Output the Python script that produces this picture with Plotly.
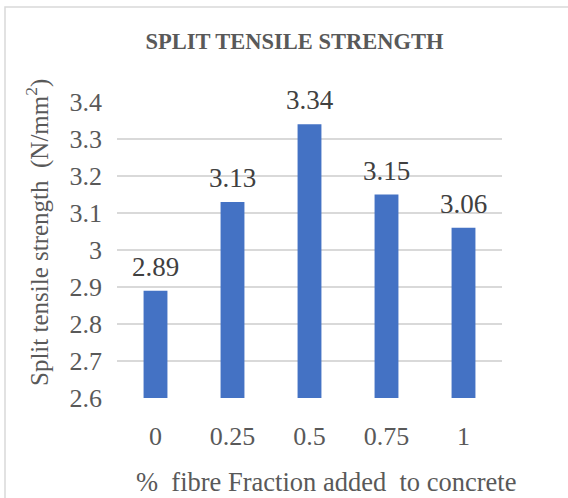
import plotly.graph_objects as go

categories = ["0", "0.25", "0.5", "0.75", "1"]
strength = [2.89, 3.13, 3.34, 3.15, 3.06]
y_ticks = [2.6, 2.7, 2.8, 2.9, 3.0, 3.1, 3.2, 3.3, 3.4]
y_tick_text = ["2.6", "2.7", "2.8", "2.9", "3", "3.1", "3.2", "3.3", "3.4"]

FONT = "Liberation Serif"
W, H = 568, 498
ml, mr, mt, mb = 117, 66, 102, 100
pw, ph = W - ml - mr, H - mt - mb

fig = go.Figure()
fig.add_trace(go.Bar(
    x=categories, y=strength, width=0.31,
    marker=dict(color="#4472C4", line=dict(width=0)),
    cliponaxis=False,
))

for i, v in enumerate(strength):
    fig.add_annotation(x=i, y=v, text=f"{v:.2f}", showarrow=False,
                       xanchor="center", yanchor="bottom", yshift=7,
                       font=dict(family=FONT, size=27, color="#404040"))

fig.update_layout(
    width=W, height=H,
    margin=dict(l=ml, r=mr, t=mt, b=mb),
    paper_bgcolor="white", plot_bgcolor="white",
    showlegend=False,
    bargap=0.69,
    title=dict(text="<b>SPLIT TENSILE STRENGTH</b>", x=(148 + 441) / 2 / W, xanchor="center",
               y=1 - 41 / H, yanchor="middle",
               font=dict(family=FONT, size=22.5, color="#595959")),
    xaxis=dict(type="category", showgrid=False, showline=False, ticks="",
               tickfont=dict(family=FONT, size=26, color="#595959"), ticklabelstandoff=20),
    yaxis=dict(range=[2.6, 3.4], tickvals=y_ticks, ticktext=y_tick_text,
               showgrid=True, gridcolor="#D9D9D9", gridwidth=1.5, zeroline=False,
               showline=False, ticks="", ticklabelstandoff=14,
               tickfont=dict(family=FONT, size=26, color="#595959")),
)

# axis titles
fig.add_annotation(text="%  fibre Fraction added  to concrete", xref="paper", yref="paper",
                   x=(326 - ml) / pw, y=-(482 - (mt + ph)) / ph, xanchor="center", yanchor="middle",
                   showarrow=False, font=dict(family=FONT, size=26.5, color="#595959"))
fig.add_annotation(text="Split tensile strength  (N/mm<sup>2</sup>)", xref="paper", yref="paper",
                   x=(37 - ml) / pw, y=(mt + ph - 233) / ph, xanchor="center", yanchor="middle",
                   textangle=-90, showarrow=False, font=dict(family=FONT, size=25, color="#595959"))

# chart frame
fig.add_shape(type="rect", xref="paper", yref="paper",
              x0=(5 - ml) / pw, x1=(W + 20 - ml) / pw,
              y0=-(H + 20 - (mt + ph)) / ph, y1=(mt + ph - 7) / ph,
              line=dict(color="#D9D9D9", width=1.5), fillcolor="rgba(0,0,0,0)", layer="below")

fig.write_html("out.html")
